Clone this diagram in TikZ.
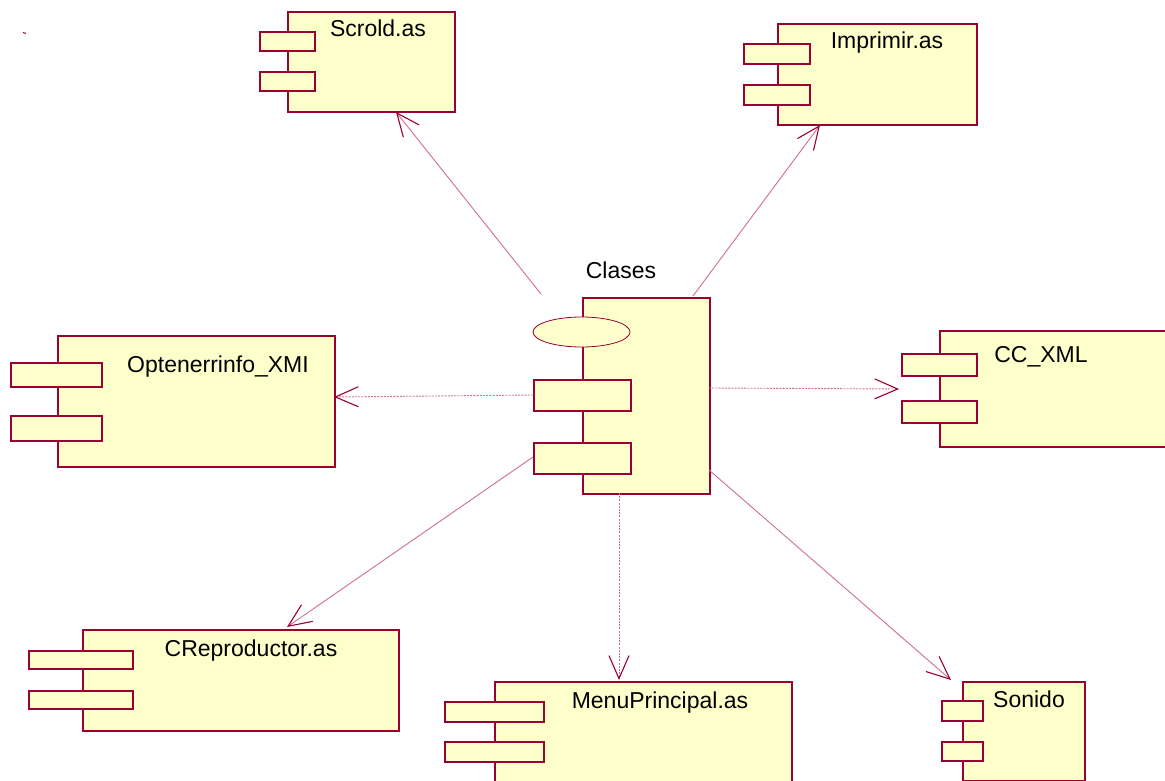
\documentclass[tikz,border=0pt]{standalone}
\usepackage{fontspec}
\setmainfont{Liberation Sans}
\usetikzlibrary{arrows.meta,shapes.geometric}

\definecolor{compborder}{RGB}{153,0,51}
\definecolor{compfill}{RGB}{255,255,204}
\definecolor{depline}{RGB}{206,110,145}

\tikzset{
  body/.style={draw=compborder, fill=compfill, line width=1.6pt,
    anchor=north west, inner sep=0pt, rectangle},
  port/.style={draw=compborder, fill=compfill, line width=1.6pt,
    anchor=north west, inner sep=0pt, rectangle},
  iface/.style={draw=compborder, fill=compfill, line width=0.8pt,
    ellipse, inner sep=0pt},
  compname/.style={anchor=base, inner sep=0pt,
    font=\fontsize{23}{27}\selectfont},
  dep/.style={draw=depline, line width=0.9pt,
    -{Straight Barb[color=compborder, length=23pt, width=20pt, line width=1.1pt]}},
  depdash/.style={dep, dash pattern=on 2pt off 1.2pt},
}

\begin{document}
\begin{tikzpicture}[x=1pt, y=-1pt]
\useasboundingbox (0,0) rectangle (1165,781);

% stray tick near the top-left corner
\draw[compborder, line width=1pt] (23,32.5) -- (26,33.5);

% ---- Clases (central component) ----
\node[body, minimum width=127pt, minimum height=196pt] (clases) at (582,297) {};
\node[iface, minimum width=97pt, minimum height=30pt] (clases-if) at (581.5,332) {};
\node[port, minimum width=97pt, minimum height=31pt] (clases-p1) at (533,379) {};
\node[port, minimum width=97pt, minimum height=31pt] (clases-p2) at (533,442) {};
\node[compname] (clases-t) at (621,278) {Clases};

% ---- Scrold.as ----
\node[body, minimum width=167pt, minimum height=100pt] (scrold) at (287,11) {};
\node[port, minimum width=55pt, minimum height=19pt] (scrold-p1) at (259,31) {};
\node[port, minimum width=55pt, minimum height=19pt] (scrold-p2) at (259,71) {};
\node[compname] (scrold-t) at (378,37) {Scrold.as};

% ---- Imprimir.as ----
\node[body, minimum width=199pt, minimum height=101pt] (imprimir) at (777,23) {};
\node[port, minimum width=66pt, minimum height=20pt] (imprimir-p1) at (743,43) {};
\node[port, minimum width=66pt, minimum height=20pt] (imprimir-p2) at (743,84) {};
\node[compname] (imprimir-t) at (887,49) {Imprimir.as};

% ---- Optenerrinfo_XMI ----
\node[body, minimum width=277pt, minimum height=131pt] (opt) at (57,335) {};
\node[port, minimum width=91pt, minimum height=24pt] (opt-p1) at (10,362) {};
\node[port, minimum width=91pt, minimum height=25pt] (opt-p2) at (10,415) {};
\node[compname] (opt-t) at (218,372) {Optenerrinfo\_XMI};

% ---- CC_XML ----
\node[body, minimum width=232pt, minimum height=116pt] (ccxml) at (939,330) {};
\node[port, minimum width=75pt, minimum height=22pt] (ccxml-p1) at (901,353) {};
\node[port, minimum width=75pt, minimum height=22pt] (ccxml-p2) at (901,400) {};
\node[compname] (ccxml-t) at (1041,362) {CC\_XML};

% ---- CReproductor.as ----
\node[body, minimum width=316pt, minimum height=101pt] (crep) at (82,629) {};
\node[port, minimum width=104pt, minimum height=18pt] (crep-p1) at (28,650) {};
\node[port, minimum width=104pt, minimum height=18pt] (crep-p2) at (28,690) {};
\node[compname] (crep-t) at (251,656) {CReproductor.as};

% ---- MenuPrincipal.as ----
\node[body, minimum width=297pt, minimum height=102pt] (menu) at (494,681) {};
\node[port, minimum width=99pt, minimum height=20pt] (menu-p1) at (444,701) {};
\node[port, minimum width=99pt, minimum height=20pt] (menu-p2) at (444,741) {};
\node[compname] (menu-t) at (660,708) {MenuPrincipal.as};

% ---- Sonido ----
\node[body, minimum width=122pt, minimum height=99pt] (sonido) at (962,681) {};
\node[port, minimum width=41pt, minimum height=20pt] (sonido-p1) at (941,700) {};
\node[port, minimum width=41pt, minimum height=19pt] (sonido-p2) at (941,741) {};
\node[compname] (sonido-t) at (1029,707) {Sonido};

% ---- dependency end points ----
\coordinate (s-scrold) at (541,294);
\coordinate (e-scrold) at (396,112);
\coordinate (s-impr) at (693,296);
\coordinate (e-impr) at (820,125);
\coordinate (s-opt) at (533,395);
\coordinate (e-opt) at (334,397);
\coordinate (s-cc) at (709,388);
\coordinate (e-cc) at (899,389);
\coordinate (s-crep) at (533,457);
\coordinate (e-crep) at (287,627);
\coordinate (s-menu) at (619,493);
\coordinate (e-menu) at (619,680);
\coordinate (s-son) at (709,470);
\coordinate (e-son) at (951,680);

% ---- dependencies ----
\draw[dep] (s-scrold) -- (e-scrold);
\draw[dep] (s-impr) -- (e-impr);
\draw[depdash] (s-opt) -- (e-opt);
\draw[depdash] (s-cc) -- (e-cc);
\draw[dep] (s-crep) -- (e-crep);
\draw[depdash] (s-menu) -- (e-menu);
\draw[dep] (s-son) -- (e-son);
\end{tikzpicture}
\end{document}
